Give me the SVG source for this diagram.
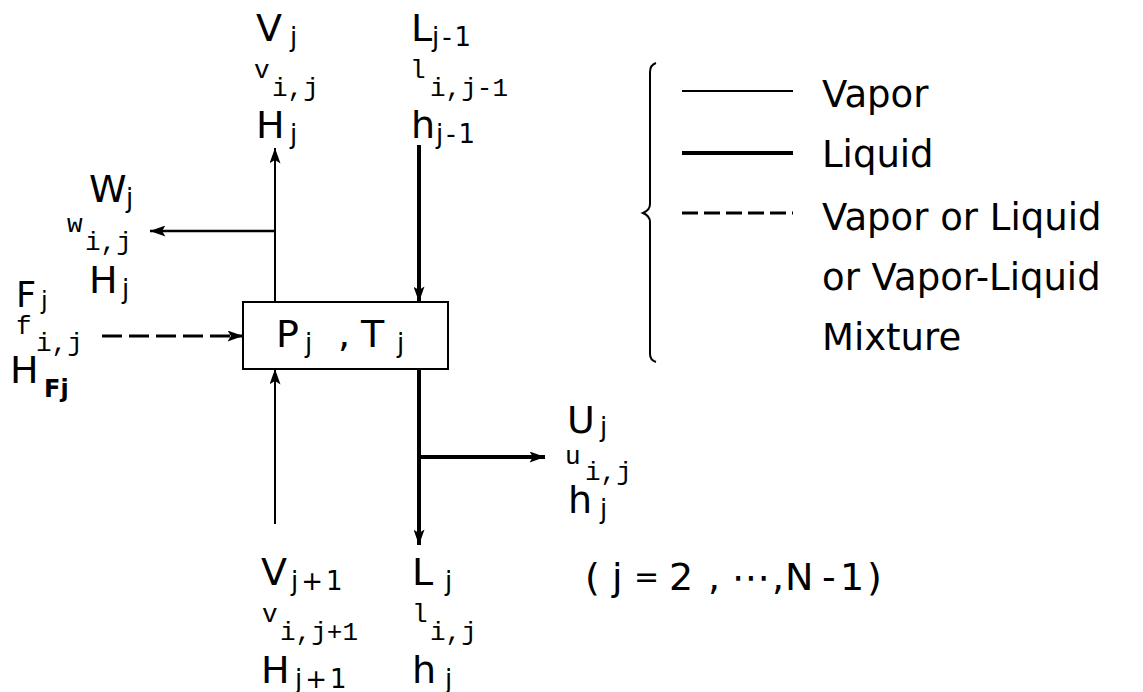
<svg xmlns="http://www.w3.org/2000/svg" width="1143" height="692" viewBox="0 0 1143 692">
<style>
.big{font-family:"DejaVu Sans","Liberation Sans",sans-serif;font-size:38px;fill:#000}
.sub{font-family:"DejaVu Sans","Liberation Sans",sans-serif;font-size:26px;fill:#000}
.subb{font-family:"DejaVu Sans","Liberation Sans",sans-serif;font-size:24px;font-weight:bold;fill:#000}
.ms{font-family:"Liberation Mono","DejaVu Sans Mono",monospace;font-size:26px;fill:#000}
.mi{font-family:"Liberation Mono","DejaVu Sans Mono",monospace;font-size:26px;fill:#000}
.leg{font-family:"DejaVu Sans","Liberation Sans",sans-serif;font-size:37px;fill:#000}
.vap{stroke:#000;stroke-width:2;fill:none}
.liq{stroke:#000;stroke-width:4;fill:none}
.mix{stroke:#000;stroke-width:3;fill:none;stroke-dasharray:20 7}
</style>
<defs>
<marker id="ah" viewBox="0 0 14 10" refX="14" refY="5" markerWidth="16" markerHeight="11" markerUnits="userSpaceOnUse" orient="auto">
<path d="M0,0 L14,5 L0,10 L3,5 z" fill="#000"/>
</marker>
</defs>
<rect width="1143" height="692" fill="#fff"/>

<g id="connectors">
<path class="vap" d="M275 302 V148" marker-end="url(#ah)"/>
<path class="vap" d="M275 231 H150" marker-end="url(#ah)" style="stroke-width:2.5"/>
<path class="liq" d="M419 145 V302" marker-end="url(#ah)"/>
<path class="mix" d="M102 336 H243" marker-end="url(#ah)"/>
<path class="vap" d="M275 524 V369" marker-end="url(#ah)"/>
<path class="liq" d="M419 369 V545" marker-end="url(#ah)"/>
<path class="liq" d="M419 457 H545" marker-end="url(#ah)"/>
</g>

<g id="stage">
<rect x="243" y="302" width="205" height="67" fill="#fff" stroke="#000" stroke-width="2"/>
<text class="big" x="276" y="347">P</text><text class="sub" x="305" y="352">j</text>
<text class="big" x="338" y="347">,</text>
<text class="big" x="361" y="347">T</text><text class="sub" x="397" y="352">j</text>
</g>

<g id="vapor-out">
<text class="big" x="256" y="41">V</text><text class="sub" x="290" y="46">j</text>
<text class="ms" x="254" y="78">v</text><text class="mi" x="272" y="96">i,j</text>
<text class="big" x="256" y="138">H</text><text class="sub" x="290" y="143">j</text>
</g>

<g id="liquid-in">
<text class="big" x="411" y="41">L</text><text class="sub" x="432" y="46" letter-spacing="3">j-1</text>
<text class="ms" x="410" y="78">l</text><text class="mi" x="430" y="96">i,j-1</text>
<text class="big" x="411" y="138">h</text><text class="sub" x="436" y="143" letter-spacing="3">j-1</text>
</g>

<g id="vapor-side">
<text class="big" x="89" y="202">W</text><text class="sub" x="126" y="207">j</text>
<text class="ms" x="67" y="232">w</text><text class="mi" x="85" y="250">i,j</text>
<text class="big" x="89" y="293">H</text><text class="sub" x="122" y="298">j</text>
</g>

<g id="feed">
<text class="big" x="16" y="307" style="font-size:35px">F</text><text class="sub" x="41" y="309" style="font-size:24px">j</text>
<text class="ms" x="16" y="334">f</text><text class="mi" x="36" y="351">i,j</text>
<text class="big" x="10" y="383">H</text><text class="subb" x="44" y="397">Fj</text>
</g>

<g id="liquid-side">
<text class="big" x="567" y="433">U</text><text class="sub" x="600" y="436">j</text>
<text class="ms" x="565" y="464">u</text><text class="mi" x="585" y="480">i,j</text>
<text class="big" x="568" y="513">h</text><text class="sub" x="600" y="518">j</text>
</g>

<g id="vapor-in">
<text class="big" x="261" y="585">V</text><text class="sub" x="291" y="590" letter-spacing="3">j+1</text>
<text class="ms" x="262" y="622">v</text><text class="mi" x="280" y="640">i,j+1</text>
<text class="big" x="261" y="683">H</text><text class="sub" x="295" y="688" letter-spacing="3">j+1</text>
</g>

<g id="liquid-out">
<text class="big" x="412" y="585">L</text><text class="sub" x="445" y="590">j</text>
<text class="ms" x="412" y="622">l</text><text class="mi" x="430" y="640">i,j</text>
<text class="big" x="412" y="683">h</text><text class="sub" x="445" y="688">j</text>
</g>

<g id="range">
<text class="big" y="590"><tspan x="585">(</tspan><tspan x="612">j</tspan><tspan x="634" y="587" style="font-size:30px">=</tspan><tspan x="669" y="590">2</tspan><tspan x="708">,</tspan><tspan x="732">⋯</tspan><tspan x="772">,</tspan><tspan x="785">N</tspan><tspan x="822">-</tspan><tspan x="840">1</tspan><tspan x="867">)</tspan></text>
</g>

<g id="legend">
<path d="M656 63 Q650 65 650 72 V204 Q650 210 643 213 Q650 216 650 222 V354 Q650 360 656 362" fill="none" stroke="#000" stroke-width="2"/>
<line class="vap" x1="682" y1="91" x2="793" y2="91"/>
<line class="liq" x1="682" y1="153" x2="793" y2="153"/>
<line class="mix" x1="682" y1="213" x2="793" y2="213" style="stroke-dasharray:16 6"/>
<text class="leg" x="822" y="107">Vapor</text>
<text class="leg" x="822" y="167">Liquid</text>
<text class="leg" x="822" y="230">Vapor or Liquid</text>
<text class="leg" x="822" y="290">or Vapor-Liquid</text>
<text class="leg" x="822" y="350">Mixture</text>
</g>
</svg>
